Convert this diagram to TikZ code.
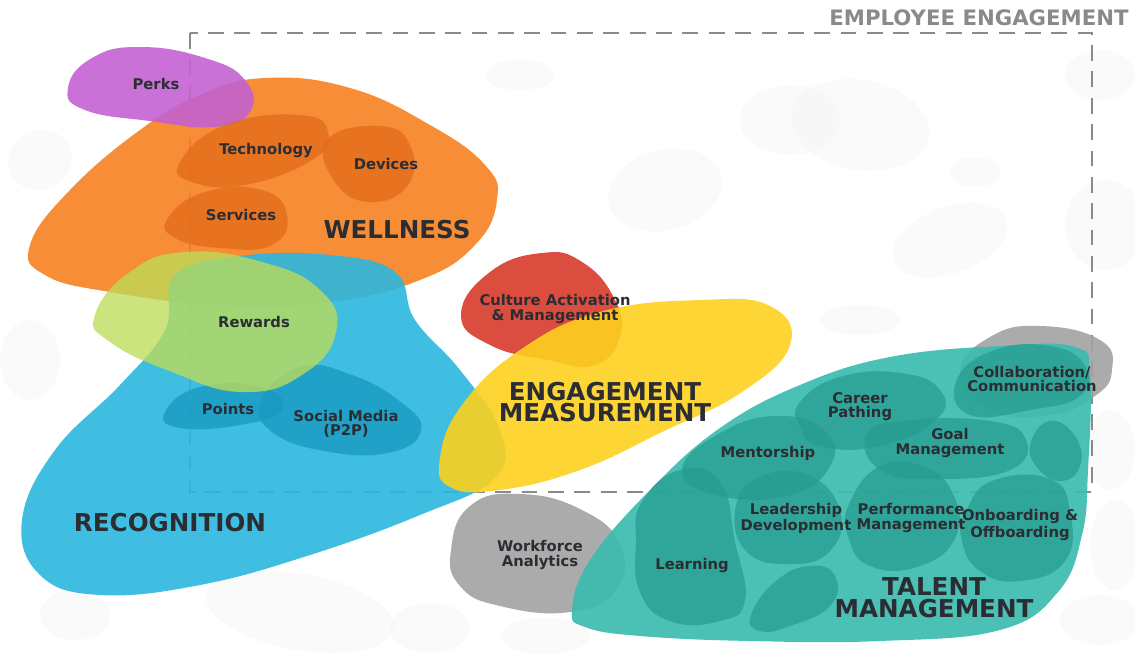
\documentclass[tikz,border=0pt]{standalone}
\usepackage{fontspec}
\setmainfont{DejaVu Sans}
\definecolor{ink}{HTML}{2B2D33}
\definecolor{frameC}{HTML}{8A8A8A}
\definecolor{wellC}{HTML}{F68121}
\definecolor{wellD}{HTML}{E26B1A}
\definecolor{perkC}{HTML}{C362D2}
\definecolor{recoC}{HTML}{2BB7DF}
\definecolor{recoD}{HTML}{1698C0}
\definecolor{rewC}{HTML}{BEDC58}
\definecolor{cultC}{HTML}{D63A2A}
\definecolor{measC}{HTML}{FDD11F}
\definecolor{grayC}{HTML}{A2A2A2}
\definecolor{talC}{HTML}{3DBBAE}
\definecolor{talD}{HTML}{279C90}
\tikzset{
  blob/.style ={fill=#1, fill opacity=0.9},
  sub/.style  ={fill=#1, fill opacity=0.75},
  ghost/.style={fill=black!4, fill opacity=0.5},
  lbl/.style  ={text=ink, align=center, font=\bfseries\fontsize{8.4}{8}\selectfont},
  big/.style  ={text=ink, align=center, font=\bfseries\fontsize{14}{12.4}\selectfont},
}
\begin{document}
\begin{tikzpicture}[x=0.02cm, y=-0.02cm]
  \useasboundingbox (0,0) rectangle (1135,656);
  % faint background pebbles
  \foreach \cx/\cy/\rx/\ry/\a in {40/160/32/30/20, 30/360/30/40/0, 665/190/58/40/15, 790/120/50/35/0,
      860/125/70/45/-10, 950/240/60/33/20, 975/172/25/15/0, 1100/75/35/25/0, 1105/225/40/45/0,
      860/320/40/15/0, 520/75/35/15/0, 1110/450/25/40/0, 1115/545/25/45/0, 75/615/35/25/0,
      300/612/95/38/-10, 430/628/40/25/0, 545/636/45/18/0, 1100/620/40/25/0}
    \path[ghost] (\cx,\cy) ellipse[x radius=\rx, y radius=\ry, rotate=\a];
  % frame
  \draw[frameC, line width=1.2pt, dash pattern=on 9pt off 6pt] (190,33) rectangle (1092,492);
  \node[text=frameC, font=\bfseries\fontsize{12.1}{14}\selectfont] (title) at (979,18) {EMPLOYEE ENGAGEMENT};

  % wellness
  \path[blob=wellC] plot[smooth cycle, tension=0.75] coordinates {(30,245) (70,190) (140,130) (200,95) (265,78)
      (350,88) (430,125) (485,165) (497,200) (475,245) (420,280) (330,302) (220,305) (110,292) (45,275)};
  \path[blob=perkC] plot[smooth cycle, tension=0.8] coordinates {(68,88) (92,58) (140,47) (205,58) (245,80)
      (250,112) (215,127) (150,121) (85,110)};
  \path[sub=wellD] plot[smooth cycle, tension=0.8] coordinates {(180,162) (225,125) (300,115) (328,132)
      (312,160) (245,185) (192,182)};
  \path[sub=wellD] plot[smooth cycle, tension=0.8] coordinates {(327,140) (380,126) (410,145) (408,185)
      (370,202) (335,182)};
  \path[sub=wellD] plot[smooth cycle, tension=0.8] coordinates {(168,218) (205,192) (262,190) (287,215)
      (272,245) (220,248) (175,238)};

  % recognition
  \path[blob=recoC] plot[smooth cycle, tension=0.7] coordinates {(175,275) (240,256) (330,255) (395,272)
      (415,320) (460,370) (500,430) (495,478) (420,515) (310,555) (200,585) (100,595) (40,575) (22,520)
      (55,450) (120,385) (165,330)};
  \path[sub=recoD] plot[smooth cycle, tension=0.8] coordinates {(165,412) (200,387) (262,387) (282,410)
      (240,425) (180,428)};
  \path[sub=recoD] plot[smooth cycle, tension=0.8] coordinates {(262,400) (300,367) (352,375) (402,403)
      (421,430) (392,452) (330,452) (272,432)};
  \path[fill=rewC, fill opacity=0.78] plot[smooth cycle, tension=0.8] coordinates {(95,315) (130,272)
      (185,252) (262,262) (320,290) (336,332) (302,375) (242,392) (172,372) (110,342)};

  % culture and measurement
  \path[blob=cultC] plot[smooth cycle, tension=0.8] coordinates {(461,315) (490,272) (542,253) (582,262)
      (614,298) (620,336) (595,365) (548,360) (490,345)};
  \path[blob=measC] plot[smooth cycle, tension=0.75] coordinates {(440,458) (462,405) (520,350) (600,312)
      (700,300) (770,306) (790,345) (742,392) (662,432) (580,470) (500,490) (450,487)};

  % talent management
  \path[blob=grayC] plot[smooth cycle, tension=0.8] coordinates {(451,550) (470,506) (520,494) (582,510)
      (620,545) (616,590) (570,612) (500,606) (460,586)};
  \path[blob=grayC] plot[smooth cycle, tension=0.8] coordinates {(960,372) (990,337) (1040,326) (1100,340)
      (1112,370) (1095,396) (1050,415) (990,410)};
  \path[fill=talC, fill opacity=0.93] plot[smooth cycle, tension=0.7] coordinates {(572,610) (590,560)
      (650,490) (720,428) (800,385) (890,357) (1000,346) (1075,347) (1090,375) (1088,470) (1082,535)
      (1058,592) (1000,630) (880,641) (750,641) (640,636) (585,627)};
  \foreach \pts in {
      {(800,402) (840,377) (900,373) (940,390) (936,420) (880,446) (820,446) (800,426)},
      {(682,470) (722,432) (780,416) (826,432) (830,466) (790,495) (720,496)},
      {(866,436) (902,421) (990,421) (1026,440) (1010,470) (940,479) (882,471)},
      {(956,382) (992,351) (1050,346) (1085,366) (1080,396) (1030,410) (970,415)},
      {(1031,442) (1050,421) (1075,436) (1080,466) (1060,481) (1036,466)},
      {(736,506) (762,476) (810,476) (840,511) (830,551) (790,564) (746,551)},
      {(850,502) (880,466) (922,466) (952,492) (956,536) (920,566) (870,566) (848,536)},
      {(966,512) (992,481) (1050,479) (1070,512) (1065,561) (1020,581) (980,571) (962,541)},
      {(642,502) (680,470) (720,482) (735,542) (745,600) (720,621) (670,621) (640,592) (636,542)},
      {(751,615) (776,581) (810,566) (835,576) (830,606) (790,626) (760,631)}}
    \path[sub=talD] plot[smooth cycle, tension=0.8] coordinates \pts;

  % labels
  \node[lbl] (perks) at (156,84) {Perks};
  \node[lbl] (tech) at (266,150) {Technology};
  \node[lbl] (dev) at (386,164) {Devices};
  \node[lbl] (serv) at (241,215) {Services};
  \node[big] (well) at (397,230) {WELLNESS};
  \node[lbl] (rew) at (254,322) {Rewards};
  \node[lbl] (pts) at (228,409) {Points};
  \node[lbl] (soc) at (346,424) {Social Media\\(P2P)};
  \node[big] (reco) at (170,523) {RECOGNITION};
  \node[lbl] (cult) at (555,309) {Culture Activation\\\& Management};
  \node[big] (meas) at (605,402) {ENGAGEMENT\\MEASUREMENT};
  \node[lbl] (wfa) at (540,555) {Workforce\\Analytics};
  \node[lbl] (collab) at (1032,379) {Collaboration/\\Communication};
  \node[lbl] (career) at (860,407) {Career\\Pathing};
  \node[lbl] (goal) at (950,443) {Goal\\Management};
  \node[lbl] (ment) at (768,453) {Mentorship};
  \node[lbl] (lead) at (796,518) {Leadership\\Development};
  \node[lbl] (perf) at (911,518) {Performance\\Management};
  \node[lbl] (onb) at (1020,525) {Onboarding \&\\Offboarding};
  \node[lbl] (learn) at (692,565) {Learning};
  \node[big] (tal) at (934,598) {TALENT\\MANAGEMENT};
\end{tikzpicture}
\end{document}
